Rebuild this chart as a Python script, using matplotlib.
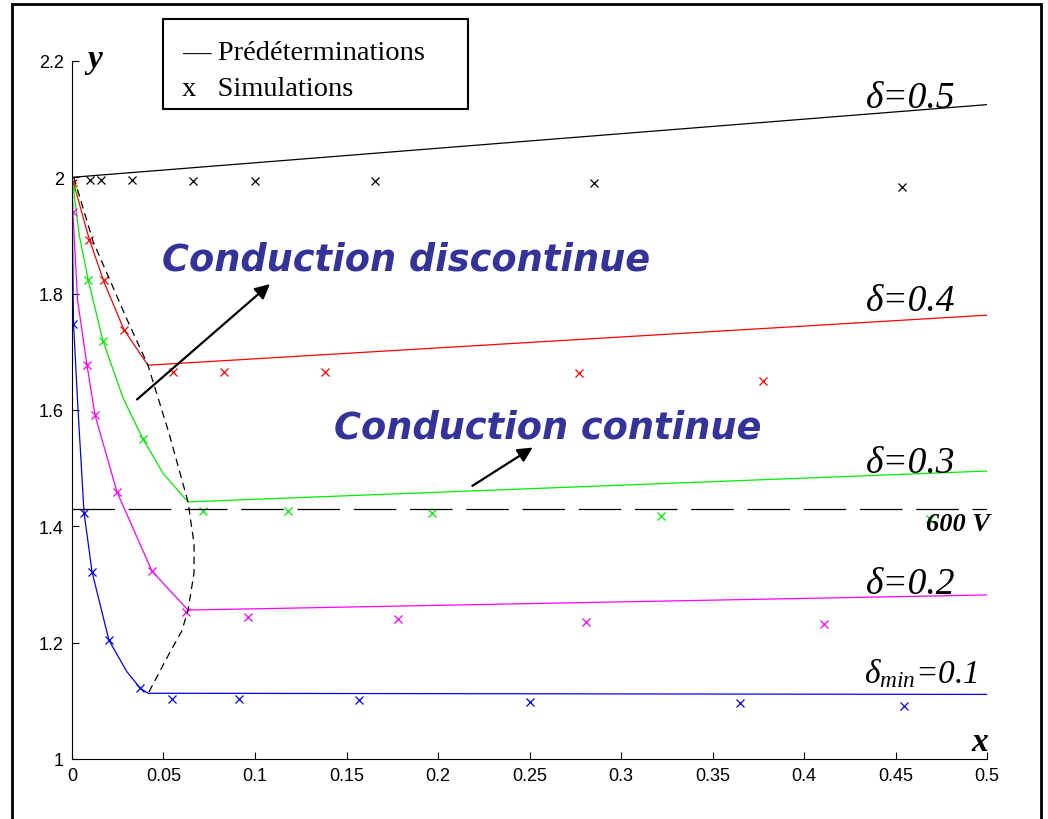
import matplotlib
matplotlib.use('Agg')
import matplotlib.pyplot as plt
from matplotlib.patches import Rectangle

# Predetermined curves (delta = 0.5 ... 0.1)
x05 = [0, 0.5]
y05 = [2.0, 2.125]
x04 = [0, 0.0093, 0.0175, 0.0284, 0.0415, 0.5]
y04 = [2.0, 1.895, 1.82, 1.738, 1.677, 1.763]
x03 = [0, 0.004, 0.0089, 0.017, 0.028, 0.0388, 0.05, 0.0634, 0.5]
y03 = [2.0, 1.90, 1.823, 1.718, 1.62, 1.55, 1.49, 1.442, 1.495]
x02 = [0, 0.0005, 0.003, 0.0082, 0.0126, 0.0246, 0.0437, 0.0634, 0.5]
y02 = [2.0, 1.94, 1.79, 1.677, 1.591, 1.459, 1.323, 1.256, 1.282]
x01 = [0, 0.0003, 0.0008, 0.0033, 0.0066, 0.011, 0.0202, 0.03, 0.0372, 0.0415, 0.5]
y01 = [2.0, 1.90, 1.75, 1.60, 1.423, 1.321, 1.204, 1.15, 1.122, 1.113, 1.111]

# Simulation points
sx05 = [0.0098, 0.0158, 0.0328, 0.066, 0.1, 0.1656, 0.285, 0.4536]
sy05 = [1.995, 1.995, 1.996, 1.994, 1.994, 1.994, 1.991, 1.984]
sx04 = [0.0005, 0.0093, 0.0175, 0.0284, 0.0552, 0.083, 0.138, 0.277, 0.3776]
sy04 = [1.99, 1.893, 1.823, 1.737, 1.665, 1.665, 1.665, 1.663, 1.649]
sx03 = [0.0005, 0.0089, 0.017, 0.0388, 0.0716, 0.118, 0.1967, 0.322, 0.469]
sy03 = [1.98, 1.823, 1.718, 1.550, 1.426, 1.426, 1.423, 1.418, 1.412]
sx02 = [0.0005, 0.0082, 0.0126, 0.0246, 0.0437, 0.0623, 0.0962, 0.178, 0.281, 0.411]
sy02 = [1.94, 1.677, 1.591, 1.459, 1.323, 1.253, 1.244, 1.24, 1.235, 1.232]
sx01 = [0.0005, 0.0066, 0.011, 0.0202, 0.0372, 0.0546, 0.0913, 0.157, 0.25, 0.365, 0.4546]
sy01 = [1.747, 1.423, 1.321, 1.204, 1.122, 1.103, 1.103, 1.101, 1.098, 1.096, 1.091]

# Boundary between discontinuous / continuous conduction
bx = [0.001, 0.0115, 0.03, 0.0415, 0.053, 0.0634, 0.0667, 0.0667, 0.0634, 0.06, 0.0536, 0.0415]
by = [2.0, 1.89, 1.756, 1.677, 1.56, 1.442, 1.37, 1.32, 1.256, 1.22, 1.184, 1.112]

# 600 V level
v600 = 1.43

curves = [(x05, y05, sx05, sy05, 'black'),
          (x04, y04, sx04, sy04, '#ff0000'),
          (x03, y03, sx03, sy03, '#00ee00'),
          (x02, y02, sx02, sy02, '#ff00ff'),
          (x01, y01, sx01, sy01, '#0000ff')]

plt.rcParams['mathtext.fontset'] = 'custom'
plt.rcParams['mathtext.it'] = 'Liberation Serif:italic'
plt.rcParams['mathtext.rm'] = 'Liberation Serif:italic'

fig = plt.figure(figsize=(10.48, 8.2), dpi=100)
ax = fig.add_axes([0.0687, 0.0732, 0.8731, 0.8512])

for x, y, sx, sy, c in curves:
    ax.plot(x, y, color=c, linewidth=0.9)
    ax.plot(sx, sy, linestyle='none', marker='x', color=c, markersize=6, markeredgewidth=0.9)

ax.plot(bx, by, color='black', linewidth=0.9, dashes=(6, 4))
ax.plot([0, 0.5], [v600, v600], color='black', linewidth=0.9, dashes=(34, 11))

ax.set_xlim(0, 0.5)
ax.set_ylim(1, 2.2)
ax.set_xticks([0, 0.05, 0.1, 0.15, 0.2, 0.25, 0.3, 0.35, 0.4, 0.45, 0.5])
ax.set_xticklabels(['0', '0.05', '0.1', '0.15', '0.2', '0.25', '0.3', '0.35', '0.4', '0.45', '0.5'])
ax.set_yticks([1, 1.2, 1.4, 1.6, 1.8, 2, 2.2])
ax.set_yticklabels(['1', '1.2', '1.4', '1.6', '1.8', '2', '2.2'])
ax.tick_params(direction='in', length=5, width=0.8, labelsize=13, pad=6)
for lbl in ax.get_xticklabels() + ax.get_yticklabels():
    lbl.set_family('Liberation Sans')
ax.spines['top'].set_visible(False)
ax.spines['right'].set_visible(False)

# axis names
ax.text(0.0126, 2.205, 'y', family='Liberation Serif', style='italic', weight='bold',
        fontsize=24, ha='center', va='center', clip_on=False)
ax.text(0.496, 1.03, 'x', family='Liberation Serif', style='italic', weight='bold',
        fontsize=24, ha='center', va='center', clip_on=False)

# curve labels
lab = dict(family='Liberation Serif', style='italic', fontsize=27, ha='center', va='center')
ax.text(0.4585, 2.137, 'δ=0.5', **lab)
ax.text(0.4585, 1.788, 'δ=0.4', **lab)
ax.text(0.4585, 1.510, 'δ=0.3', **lab)
ax.text(0.4585, 1.302, 'δ=0.2', **lab)
ax.text(0.464, 1.149, r'$\delta_{min}$=0.1', family='Liberation Serif', style='italic',
        fontsize=24, ha='center', va='center')
ax.text(0.484, 1.404, '600 V', family='Liberation Serif', style='italic', weight='bold',
        fontsize=19, ha='center', va='center', clip_on=False)

# region annotations
navy = '#333399'
ax.text(0.1825, 1.859, 'Conduction discontinue', color=navy, family='DejaVu Sans',
        style='italic', weight='bold', fontsize=26.5, ha='center', va='center')
ax.text(0.260, 1.570, 'Conduction continue', color=navy, family='DejaVu Sans',
        style='italic', weight='bold', fontsize=26.5, ha='center', va='center')
ax.annotate('', xy=(0.1093, 1.8196), xytext=(0.0344, 1.615),
            arrowprops=dict(arrowstyle='-|>', color='black', lw=1.6, mutation_scale=22))
ax.annotate('', xy=(0.253, 1.538), xytext=(0.2175, 1.467),
            arrowprops=dict(arrowstyle='-|>', color='black', lw=1.6, mutation_scale=22))

# legend box
fig.patches.append(Rectangle((0.1555, 0.8659), 0.2911, 0.1097, transform=fig.transFigure,
                             fill=False, edgecolor='black', linewidth=1.5))
fig.text(0.1735, 0.935, '\u2014 Prédéterminations', family='Liberation Serif', fontsize=20.5,
         ha='left', va='center')
fig.text(0.1735, 0.891, 'x   Simulations', family='Liberation Serif', fontsize=20.5,
         ha='left', va='center')

# outer frame
fig.patches.append(Rectangle((0.0115, -0.1), 0.9816, 1.094, transform=fig.transFigure,
                             fill=False, edgecolor='black', linewidth=2))

fig.savefig('out.png', dpi=100)
